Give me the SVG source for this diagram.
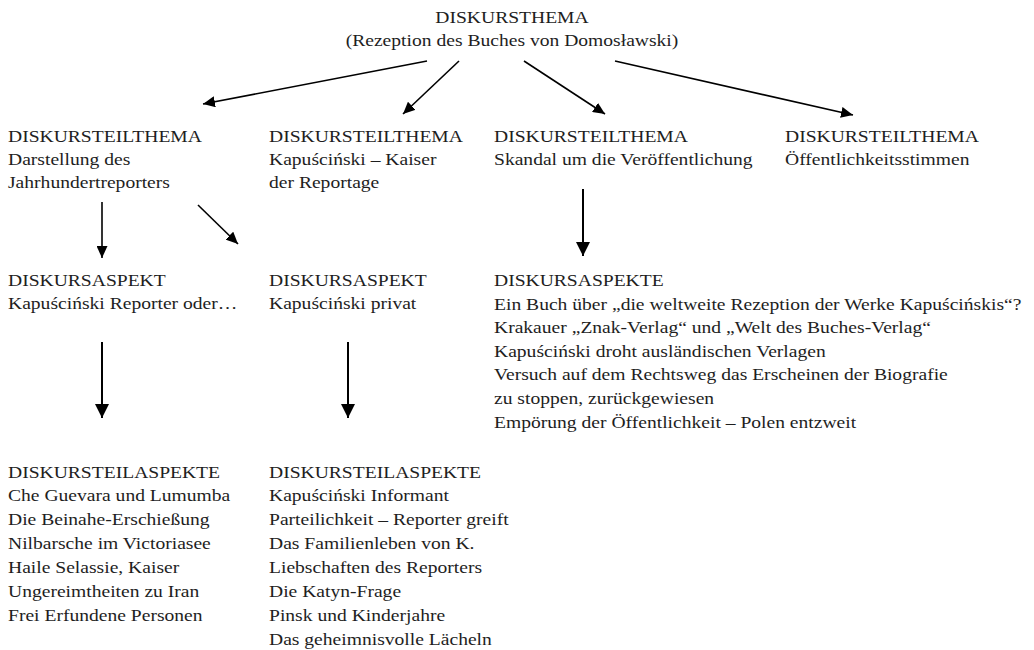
<svg xmlns="http://www.w3.org/2000/svg" width="1034" height="650" viewBox="0 0 1034 650">
<defs>
<style>
text{font-family:"Liberation Serif","Times New Roman",serif;font-size:16.6px;fill:#1e1e1e;}
.c{stroke:#000;fill:none;stroke-width:1.6;}
.cb{stroke:#000;fill:none;stroke-width:2;}
</style>
<marker id="ah" markerUnits="userSpaceOnUse" markerWidth="12" markerHeight="11" refX="12" refY="5.5" orient="auto">
<path d="M0,0 L12,5.5 L0,11 z" fill="#000"/>
</marker>
<marker id="ahb" markerUnits="userSpaceOnUse" markerWidth="14" markerHeight="14" refX="14" refY="7" orient="auto">
<path d="M0,0 L14,7 L0,14 z" fill="#000"/>
</marker>
</defs>
<rect width="1034" height="650" fill="#fff"/>

<g id="connectors">
<line class="c" x1="427" y1="61" x2="203" y2="104" marker-end="url(#ah)"/>
<line class="c" x1="459" y1="61" x2="403" y2="114" marker-end="url(#ah)"/>
<line class="c" x1="524" y1="61" x2="605" y2="114" marker-end="url(#ah)"/>
<line class="c" x1="615" y1="61" x2="853" y2="115" marker-end="url(#ah)"/>
<line class="c" x1="102" y1="202" x2="102" y2="258" marker-end="url(#ah)"/>
<line class="c" x1="198" y1="205" x2="238" y2="244" marker-end="url(#ah)"/>
<line class="cb" x1="583" y1="189" x2="583" y2="256" marker-end="url(#ahb)"/>
<line class="cb" x1="102" y1="342" x2="102" y2="418" marker-end="url(#ahb)"/>
<line class="cb" x1="348" y1="342" x2="348" y2="418" marker-end="url(#ahb)"/>
</g>

<g id="thema" transform="translate(512,23) scale(1.18,1)">
<text text-anchor="middle"><tspan x="0" y="0">DISKURSTHEMA</tspan><tspan x="0" y="23">(Rezeption des Buches von Domosławski)</tspan></text>
</g>

<g id="teilthema1" transform="translate(8,142) scale(1.18,1)">
<text><tspan x="0" y="0">DISKURSTEILTHEMA</tspan><tspan x="0" y="23">Darstellung des</tspan><tspan x="0" y="46">Jahrhundertreporters</tspan></text>
</g>

<g id="teilthema2" transform="translate(269,142) scale(1.18,1)">
<text><tspan x="0" y="0">DISKURSTEILTHEMA</tspan><tspan x="0" y="23">Kapuściński – Kaiser</tspan><tspan x="0" y="46">der Reportage</tspan></text>
</g>

<g id="teilthema3" transform="translate(494,142) scale(1.18,1)">
<text><tspan x="0" y="0">DISKURSTEILTHEMA</tspan><tspan x="0" y="23">Skandal um die Veröffentlichung</tspan></text>
</g>

<g id="teilthema4" transform="translate(785,142) scale(1.18,1)">
<text><tspan x="0" y="0">DISKURSTEILTHEMA</tspan><tspan x="0" y="23">Öffentlichkeitsstimmen</tspan></text>
</g>

<g id="aspekt1" transform="translate(8,286) scale(1.18,1)">
<text><tspan x="0" y="0">DISKURSASPEKT</tspan><tspan x="0" y="23.5">Kapuściński Reporter oder…</tspan></text>
</g>

<g id="aspekt2" transform="translate(269,286) scale(1.18,1)">
<text><tspan x="0" y="0">DISKURSASPEKT</tspan><tspan x="0" y="23.5">Kapuściński privat</tspan></text>
</g>

<g id="aspekte3" transform="translate(494,286) scale(1.18,1)">
<text><tspan x="0" y="0">DISKURSASPEKTE</tspan><tspan x="0" y="23.6">Ein Buch über „die weltweite Rezeption der Werke Kapuścińskis“?</tspan><tspan x="0" y="47.2">Krakauer „Znak-Verlag“ und „Welt des Buches-Verlag“</tspan><tspan x="0" y="70.8">Kapuściński droht ausländischen Verlagen</tspan><tspan x="0" y="94.4">Versuch auf dem Rechtsweg das Erscheinen der Biografie</tspan><tspan x="0" y="118">zu stoppen, zurückgewiesen</tspan><tspan x="0" y="141.6">Empörung der Öffentlichkeit – Polen entzweit</tspan></text>
</g>

<g id="teilaspekte1" transform="translate(8,477.5) scale(1.18,1)">
<text><tspan x="0" y="0">DISKURSTEILASPEKTE</tspan><tspan x="0" y="24">Che Guevara und Lumumba</tspan><tspan x="0" y="48">Die Beinahe-Erschießung</tspan><tspan x="0" y="72">Nilbarsche im Victoriasee</tspan><tspan x="0" y="96">Haile Selassie, Kaiser</tspan><tspan x="0" y="120">Ungereimtheiten zu Iran</tspan><tspan x="0" y="144">Frei Erfundene Personen</tspan></text>
</g>

<g id="teilaspekte2" transform="translate(269,477.5) scale(1.18,1)">
<text><tspan x="0" y="0">DISKURSTEILASPEKTE</tspan><tspan x="0" y="24">Kapuściński Informant</tspan><tspan x="0" y="48">Parteilichkeit – Reporter greift</tspan><tspan x="0" y="72">Das Familienleben von K.</tspan><tspan x="0" y="96">Liebschaften des Reporters</tspan><tspan x="0" y="120">Die Katyn-Frage</tspan><tspan x="0" y="144">Pinsk und Kinderjahre</tspan><tspan x="0" y="168">Das geheimnisvolle Lächeln</tspan></text>
</g>
</svg>
